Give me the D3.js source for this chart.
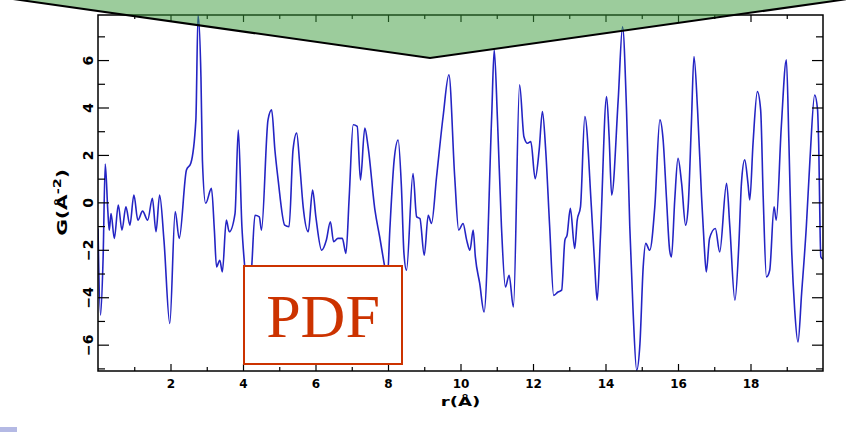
<!DOCTYPE html>
<html>
<head>
<meta charset="utf-8">
<script src="https://cdn.jsdelivr.net/npm/d3@7"></script>
<style>
  body { margin: 0; background: #fff; }
  svg { display: block; }
</style>
</head>
<body>
<script>
// r (Å) and G(r)
var rValues = [0.00, 0.07, 0.14, 0.20, 0.27, 0.31, 0.36, 0.45, 0.56, 0.66, 0.77, 0.88, 0.99, 1.10, 1.23, 1.37, 1.50, 1.60, 1.70, 1.82, 1.98,
  2.13, 2.24, 2.44, 2.56, 2.70, 2.76, 2.84, 2.88, 2.97, 3.13, 3.21, 3.27, 3.36, 3.43, 3.54, 3.62, 3.78, 3.87, 3.97,
  4.04, 4.15, 4.24, 4.33, 4.45, 4.51, 4.69, 4.79, 4.88, 4.97, 5.15, 5.27, 5.38, 5.48, 5.57, 5.66, 5.80, 5.92,
  6.01, 6.17, 6.30, 6.41, 6.50, 6.62, 6.74, 6.84, 6.93, 7.04, 7.15, 7.24, 7.36, 7.45, 7.64, 7.77, 7.91, 7.98,
  8.05, 8.17, 8.28, 8.37, 8.44, 8.51, 8.69, 8.79, 8.88, 9.00, 9.11, 9.20, 9.34, 9.52, 9.68, 9.84, 9.95,
  10.07, 10.17, 10.26, 10.35, 10.41, 10.53, 10.65, 10.86, 10.93, 11.02, 11.13, 11.24, 11.34, 11.46, 11.63, 11.75, 11.85, 11.94,
  12.06, 12.17, 12.26, 12.35, 12.46, 12.57, 12.69, 12.79, 12.88, 12.94, 13.03, 13.15, 13.22, 13.31, 13.43, 13.61, 13.70, 13.77, 13.86,
  14.03, 14.10, 14.17, 14.35, 14.47, 14.58, 14.67, 14.76, 14.86, 14.95, 15.04, 15.11, 15.22, 15.36, 15.50, 15.59, 15.68, 15.77, 15.82, 15.91,
  16.00, 16.10, 16.21, 16.28, 16.37, 16.44, 16.54, 16.65, 16.72, 16.78, 16.87, 17.03, 17.15, 17.34, 17.43, 17.57, 17.68, 17.75, 17.84, 17.93, 17.98,
  18.07, 18.19, 18.28, 18.35, 18.44, 18.53, 18.65, 18.71, 18.85, 18.99, 19.06, 19.13, 19.22, 19.31, 19.41, 19.54, 19.64, 19.77, 19.85, 19.88, 19.94, 20.00];
var gValues = [-1.1, -4.76, -2.4, 1.62, -0.33, -1.17, -0.47, -1.52, -0.11, -1.17, -0.19, -0.96, 0.31, -0.75, -0.37, -0.75, 0.17, -1.24, 0.31, -1.6, -5.11,
  -0.39, -1.52, 1.36, 1.65, 3.48, 7.9, 5.3, 1.79, -0.04, 0.59, -1.17, -2.72, -2.44, -2.93, -0.75, -1.24, -0.47, 3.05, -1.03,
  -2.58, -4.3, -2.72, -0.54, -0.61, -1.17, 3.48, 3.9, 2.21, 0.94, -0.96, -1.03, 2.21, 2.92, 1.5, -0.19, -1.24, 0.52,
  -0.61, -2.02, -1.59, -0.82, -1.66, -1.52, -1.52, -2.15, 0.24, 3.27, 3.2, 0.94, 3.13, 2.35, -0.33, -1.45, -2.72, -3.3,
  -1.17, 1.79, 2.63, 0.66, -2.15, -2.86, 1.22, -0.61, -0.68, -2.23, -0.54, -0.89, 1.08, 3.62, 5.38, 1.08, -1.17,
  -0.89, -1.59, -2.02, -1.17, -2.3, -3.42, -4.62, 3.62, 6.43, 3.48, -1.03, -3.57, -3.07, -4.41, 4.96, 2.77, 2.49, 2.56,
  1.0, 2.21, 3.83, 2.21, -1.03, -3.92, -3.78, -3.7, -1.59, -1.38, -0.25, -1.94, -0.75, -0.19, 3.62, -0.19, -2.58, -4.13, -1.45,
  4.46, 2.77, 0.31, 4.32, 7.4, 3.9, -1.03, -4.55, -7.08, -5.96, -2.72, -1.73, -2.02, -0.19, 3.48, 2.63, 0.24, -2.02, -2.3, 0.1,
  1.86, 0.8, -0.96, -0.19, 3.34, 6.15, 3.9, 0.24, -1.73, -2.93, -1.52, -1.1, -2.09, 0.8, -1.03, -4.13, -1.73, 0.8, 1.79, 0.8, 0.1,
  2.49, 4.67, 3.9, 0.24, -3.14, -2.86, -0.19, -0.75, 3.2, 6.01, 2.49, -1.73, -4.55, -5.89, -3.84, -1.03, 1.79, 4.53, 3.9, 2.49, -2.3, -2.4];

var xMajor = [2, 4, 6, 8, 10, 12, 14, 16, 18];
var xMinor = [1, 3, 5, 7, 9, 11, 13, 15, 17, 19];
var yMajor = [-6, -4, -2, 0, 2, 4, 6];
var yMinor = [-7, -5, -3, -1, 1, 3, 5, 7];

var data = rValues.map(function(r, i) { return {r: r, g: gValues[i]}; });

var W = 846, H = 432;
var plot = {left: 98, right: 823, top: 15, bottom: 371};

var svg = d3.select("body").append("svg")
  .attr("width", W)
  .attr("height", H);

var x = d3.scaleLinear().domain([0, 20]).range([plot.left, plot.right]);
var y = d3.scaleLinear().domain([-7.11, 7.9]).range([plot.bottom, plot.top]);

//clip for the curve
svg.append("defs").append("clipPath").attr("id", "plotclip")
  .append("rect")
  .attr("x", plot.left).attr("y", plot.top)
  .attr("width", plot.right - plot.left).attr("height", plot.bottom - plot.top);

//Curve________________________________________________________________
var line = d3.line()
  .x(function(d) { return x(d.r); })
  .y(function(d) { return y(d.g); })
  .curve(d3.curveMonotoneX);

svg.append("path")
  .datum(data)
  .attr("clip-path", "url(#plotclip)")
  .attr("fill", "none")
  .attr("stroke", "#2424c4")
  .attr("stroke-width", 1.6)
  .attr("stroke-linejoin", "round")
  .attr("d", line);

//Axes (ticks point inward)____________________________________________
function strip(sel) {
  sel.select(".domain").remove();
  sel.selectAll(".tick line").attr("stroke", "#000").attr("stroke-width", 1.2);
}

svg.append("g")
  .attr("transform", "translate(0," + plot.bottom + ")")
  .call(d3.axisBottom(x).tickValues(xMajor).tickSize(-7).tickPadding(8).tickFormat(d3.format("d")))
  .call(strip)
  .selectAll("text")
    .attr("font-family", "DejaVu Sans")
    .attr("font-weight", "bold")
    .attr("font-size", "12px")
    .attr("fill", "#000");

svg.append("g")
  .attr("transform", "translate(0," + plot.bottom + ")")
  .call(d3.axisBottom(x).tickValues(xMinor).tickSize(-4).tickFormat(""))
  .call(strip);

svg.append("g")
  .attr("transform", "translate(0," + plot.top + ")")
  .call(d3.axisTop(x).tickValues(xMajor).tickSize(-7).tickFormat(""))
  .call(strip);

svg.append("g")
  .attr("transform", "translate(0," + plot.top + ")")
  .call(d3.axisTop(x).tickValues(xMinor).tickSize(-4).tickFormat(""))
  .call(strip);

var yAx = svg.append("g")
  .attr("transform", "translate(" + plot.left + ",0)")
  .call(d3.axisLeft(y).tickValues(yMajor).tickSize(-11).tickFormat(d3.format("d")))
  .call(strip);

yAx.selectAll(".tick text")
  .attr("x", 0)
  .attr("y", -5)
  .attr("dy", 0)
  .attr("text-anchor", "middle")
  .attr("transform", "rotate(-90)")
  .attr("font-family", "DejaVu Sans")
  .attr("font-weight", "bold")
  .attr("font-size", "14px")
  .attr("fill", "#000");

svg.append("g")
  .attr("transform", "translate(" + plot.left + ",0)")
  .call(d3.axisLeft(y).tickValues(yMinor).tickSize(-7).tickFormat(""))
  .call(strip);

svg.append("g")
  .attr("transform", "translate(" + plot.right + ",0)")
  .call(d3.axisRight(y).tickValues(yMajor).tickSize(-11).tickFormat(""))
  .call(strip);

svg.append("g")
  .attr("transform", "translate(" + plot.right + ",0)")
  .call(d3.axisRight(y).tickValues(yMinor).tickSize(-7).tickFormat(""))
  .call(strip);

//frame
svg.append("rect")
  .attr("x", plot.left).attr("y", plot.top)
  .attr("width", plot.right - plot.left).attr("height", plot.bottom - plot.top)
  .attr("fill", "none")
  .attr("stroke", "#000")
  .attr("stroke-width", 1.5);

//Axis labels
svg.append("text")
  .attr("transform", "translate(" + ((plot.left + plot.right) / 2) + "," + (plot.bottom + 35) + ") scale(1.4,1)")
  .attr("text-anchor", "middle")
  .attr("font-family", "DejaVu Sans")
  .attr("font-weight", "bold")
  .attr("font-size", "13px")
  .text("r(Å)");

var yl = svg.append("text")
  .attr("transform", "translate(67," + y(0) + ") rotate(-90) scale(1.45,1)")
  .attr("text-anchor", "middle")
  .attr("font-family", "DejaVu Sans")
  .attr("font-weight", "bold")
  .attr("font-size", "14px");
yl.append("tspan").text("G(Å");
yl.append("tspan").attr("font-size", "10px").attr("dy", "-6").text("-2");
yl.append("tspan").attr("dy", "6").text(")");

//Green triangle overlay______________________________________________
svg.append("polygon")
  .attr("points", "6,-2 430,58 855,-2")
  .attr("fill", "#3a9a3a")
  .attr("fill-opacity", 0.5)
  .attr("stroke", "#000")
  .attr("stroke-width", 2);

//PDF box______________________________________________________________
svg.append("rect")
  .attr("x", 244).attr("y", 266)
  .attr("width", 158).attr("height", 98)
  .attr("fill", "#fff")
  .attr("stroke", "#cc3300")
  .attr("stroke-width", 2);

svg.append("text")
  .attr("x", 323).attr("y", 337)
  .attr("text-anchor", "middle")
  .attr("font-family", "Liberation Serif")
  .attr("font-size", "62px")
  .attr("fill", "#cc3300")
  .text("PDF");

//little corner swatch
svg.append("rect")
  .attr("x", 0).attr("y", 427)
  .attr("width", 17).attr("height", 5)
  .attr("fill", "#b4b9e4");
</script>
</body>
</html>
